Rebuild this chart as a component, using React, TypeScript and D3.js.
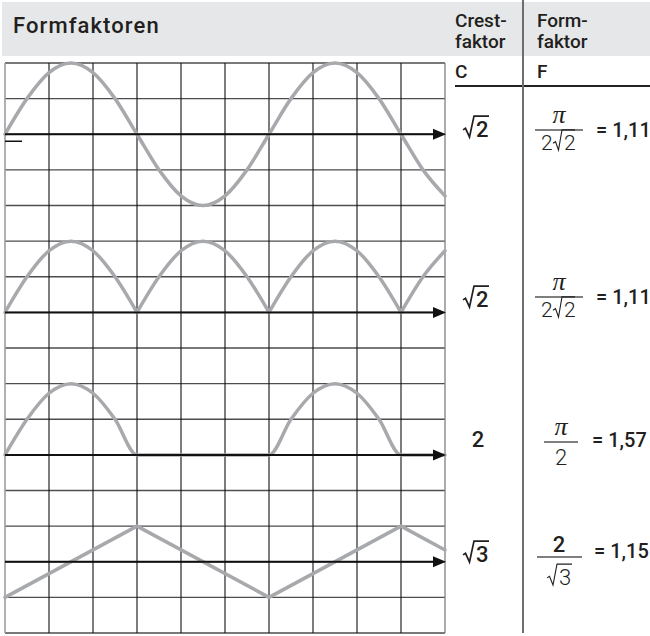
import * as d3 from "d3";

// x positions in grid columns (one column = 30° of phase)
const phaseCols = [0, 0.5, 1, 1.5, 2, 2.5, 3, 3.5, 4, 4.5, 5, 5.5, 6, 6.5, 7, 7.5, 8, 8.5, 9, 9.5, 10];
// wave heights in grid rows
const sineWave = [0, 1.0, 1.73, 2, 1.73, 1.0, 0, -1.0, -1.73, -2, -1.73, -1.0, 0, 1.0, 1.73, 2, 1.73, 1.0, 0, -1.0, -1.73];
const fullWave = [0, 1.0, 1.73, 2, 1.73, 1.0, 0, 1.0, 1.73, 2, 1.73, 1.0, 0, 1.0, 1.73, 2, 1.73, 1.0, 0, 1.0, 1.73];
const halfWave = [0, 1.0, 1.73, 2, 1.73, 1.0, 0, 0, 0, 0, 0, 0, 0, 1.0, 1.73, 2, 1.73, 1.0, 0, 0, 0];
const triangleCols = [0, 3, 6, 9, 10];
const triangleWave = [-1, 1, -1, 1, 0.33];

const axisRows = [2, 7, 11, 14];
const crestFactors = ["√2", "√2", "2", "√3"];
const formFactors = ["= 1,11", "= 1,11", "= 1,57", "= 1,15"];

const W = 650;
const H = 636;
const nCols = 10;
const nRows = 16;
const x = d3.scaleLinear().domain([0, nCols]).range([5, 445]);
const row = d3.scaleLinear().domain([0, nRows]).range([63, 633]);
const rowH = row(1) - row(0);

const ink = "#231f20";
const waveColor = "#a7a9ac";
const font = "Roboto, 'Liberation Sans', sans-serif";

type Pt = [number, number];

function splitAtZeros(pts: Pt[]): Pt[][] {
  const segs: Pt[][] = [];
  let cur: Pt[] = [];
  pts.forEach((p, i) => {
    cur.push(p);
    if (p[1] === 0 && i > 0 && i < pts.length - 1) {
      segs.push(cur);
      cur = [p];
    }
  });
  if (cur.length > 1) segs.push(cur);
  return segs;
}

function Wave({ cols, values, axisRow, curve, cusps }: any) {
  const y = d3.scaleLinear().domain([0, 1]).range([row(axisRow), row(axisRow) - rowH]);
  const line = d3.line<Pt>().x(d => x(d[0])).y(d => y(d[1])).curve(curve);
  const pts: Pt[] = cols.map((c: number, i: number) => [c, values[i]]);
  const segs = cusps ? splitAtZeros(pts) : [pts];
  return (
    <g>
      {segs.map((s, i) => (
        <path key={i} d={line(s) || ""} fill="none" stroke={waveColor} strokeWidth={3.5} strokeLinecap="round" strokeLinejoin="round" />
      ))}
    </g>
  );
}

function Axis({ axisRow }: { axisRow: number }) {
  const y = row(axisRow);
  return (
    <g>
      <line x1={x(0)} x2={x(nCols) - 10} y1={y} y2={y} stroke="#111" strokeWidth={2} />
      <path d={`M${x(nCols) - 12},${y - 5.5} L${x(nCols) + 1},${y} L${x(nCols) - 12},${y + 5.5} Z`} fill="#111" />
    </g>
  );
}

// digit under a radical sign; x0 = left of digit, b = baseline
function Radical({ x0, b, digit, size, weight, w, r = 13 }: any) {
  const h = size * 0.72;
  const top = b - h - 5;
  return (
    <g>
      <text x={x0} y={b} fontSize={size} fontWeight={weight} fontFamily={font} fill={ink}>{digit}</text>
      <path
        d={`M${x0 - r},${b - h * 0.45} L${x0 - r + 2.5},${b - h * 0.55} L${x0 - r * 0.5},${b} L${x0 - 2},${top} L${x0 + w},${top}`}
        fill="none" stroke={ink} strokeWidth={weight >= 400 ? 1.7 : 1.1} strokeLinejoin="miter"
      />
    </g>
  );
}

function Crest({ label, b }: { label: string; b: number }) {
  if (label.startsWith("√")) {
    return <Radical x0={476} b={b} digit={label.slice(1)} size={22} weight={500} w={13} />;
  }
  return <text x={478} y={b} textAnchor="middle" fontSize={22} fontWeight={500} fontFamily={font} fill={ink}>{label}</text>;
}

function Pi({ cx, b }: { cx: number; b: number }) {
  return <text x={cx} y={b} textAnchor="middle" fontSize={26} fontStyle="italic" fontFamily="'Liberation Serif', 'Times New Roman', serif" fill={ink}>π</text>;
}

function Fraction({ i }: { i: number }) {
  const eqStyle = { fontSize: 20, fontWeight: 500, fontFamily: font, fill: ink } as any;
  const bar = (x1: number, x2: number, y: number) => <line x1={x1} x2={x2} y1={y} y2={y} stroke="#555" strokeWidth={1.4} />;
  if (i === 0 || i === 1) {
    const ly = i === 0 ? 130 : 297;
    return (
      <g>
        <Pi cx={559} b={ly - 7} />
        {bar(535, 583, ly)}
        <text x={541} y={ly + 20} fontSize={21} fontWeight={300} fontFamily={font} fill={ink}>2</text>
        <Radical x0={564} b={ly + 20} digit="2" size={21} weight={300} w={11} r={11} />
        <text x={596} y={ly + 7} style={eqStyle}>{formFactors[i]}</text>
      </g>
    );
  }
  if (i === 2) {
    return (
      <g>
        <Pi cx={561} b={435} />
        {bar(544, 578, 442)}
        <text x={561} y={465} textAnchor="middle" fontSize={22} fontWeight={300} fontFamily={font} fill={ink}>2</text>
        <text x={592} y={447} style={eqStyle}>{formFactors[i]}</text>
      </g>
    );
  }
  return (
    <g>
      <text x={559} y={552} textAnchor="middle" fontSize={22} fontWeight={500} fontFamily={font} fill={ink}>2</text>
      {bar(537, 582, 557)}
      <Radical x0={559} b={585} digit="3" size={22} weight={300} w={13} r={12} />
      <text x={594} y={558} style={eqStyle}>{formFactors[i]}</text>
    </g>
  );
}

export default function App() {
  const crestBaselines = [137, 307, 447, 562];
  const head = { fontSize: 19, fontWeight: 500, fontFamily: font, fill: ink } as any;
  return (
    <svg width={W} height={H} style={{ position: "absolute", left: 0, top: 0, background: "#fff" }}>
      {/* header band */}
      <rect x={2} y={2} width={W - 2} height={54} fill="#e6e7e8" />
      <text x={13} y={33} fontSize={22} fontWeight={500} letterSpacing={1.1} fontFamily={font} fill={ink}>Formfaktoren</text>
      <text x={455} y={27} style={head}>Crest-</text>
      <text x={455} y={48} style={head}>faktor</text>
      <text x={537} y={27} style={head}>Form-</text>
      <text x={537} y={48} style={head}>faktor</text>
      <text x={455} y={78} style={head}>C</text>
      <text x={537} y={78} style={head}>F</text>
      <line x1={455} x2={W} y1={86} y2={86} stroke="#222" strokeWidth={2} />
      <line x1={523} x2={523} y1={0} y2={633} stroke="#6d6e71" strokeWidth={2} />

      {/* grid */}
      <g>
        {d3.range(0, nRows + 1).map(r => (
          <line key={"h" + r} x1={x(0)} x2={x(nCols)} y1={row(r)} y2={row(r)} stroke="#4d4d4d" strokeWidth={1.3} />
        ))}
        {d3.range(1, nCols).map(c => (
          <line key={"v" + c} x1={x(c)} x2={x(c)} y1={row(0)} y2={row(nRows)} stroke="#111" strokeWidth={1.1} />
        ))}
        <line x1={x(0)} x2={x(0)} y1={row(0)} y2={row(nRows)} stroke="#9d9d9d" strokeWidth={1.6} />
        <line x1={x(nCols)} x2={x(nCols)} y1={row(0)} y2={row(nRows)} stroke="#808080" strokeWidth={1.3} />
      </g>

      {/* waveforms */}
      <Wave cols={phaseCols} values={sineWave} axisRow={axisRows[0]} curve={d3.curveMonotoneX} />
      <Wave cols={phaseCols} values={fullWave} axisRow={axisRows[1]} curve={d3.curveMonotoneX} cusps />
      <Wave cols={phaseCols} values={halfWave} axisRow={axisRows[2]} curve={d3.curveMonotoneX} />
      <Wave cols={triangleCols} values={triangleWave} axisRow={axisRows[3]} curve={d3.curveLinear} />

      {axisRows.map(r => <Axis key={r} axisRow={r} />)}
      <line x1={x(0)} x2={x(0) + 17} y1={row(axisRows[0]) + 7} y2={row(axisRows[0]) + 7} stroke="#111" strokeWidth={1.5} />

      {/* factors */}
      {crestFactors.map((c, i) => <Crest key={i} label={c} b={crestBaselines[i]} />)}
      {formFactors.map((_, i) => <Fraction key={i} i={i} />)}
    </svg>
  );
}
